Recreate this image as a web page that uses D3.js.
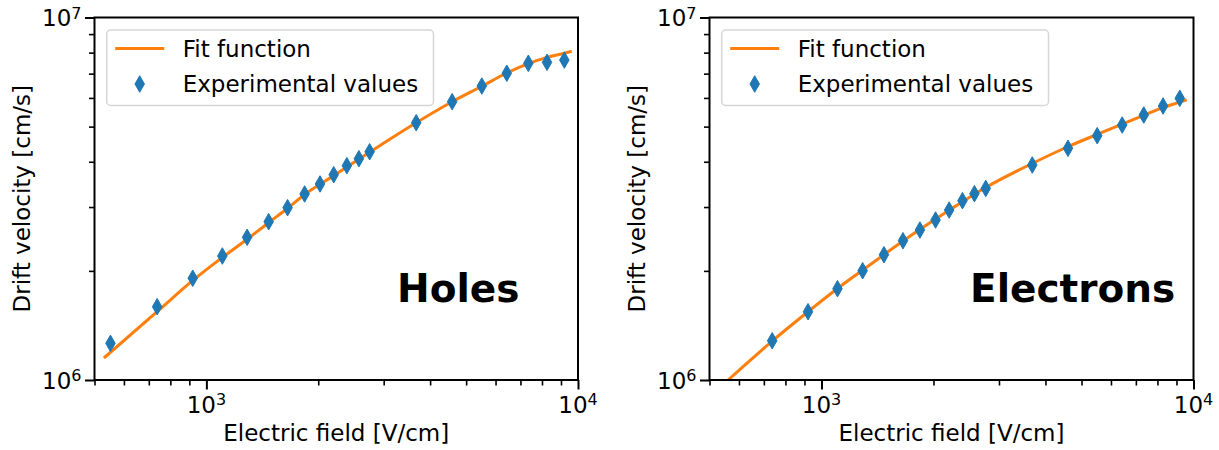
<!DOCTYPE html>
<html><head><meta charset="utf-8">
<script src="https://cdn.jsdelivr.net/npm/d3@7"></script>
<style>
body{margin:0;background:#fff}
text{font-family:"DejaVu Sans",sans-serif;fill:#000}
</style>
</head><body>
<svg id="chart" width="1219" height="450"></svg>
<script>
// ---------------- data ----------------
const holesField = [552, 737, 919, 1104, 1287, 1471, 1654, 1838, 2022, 2201, 2388, 2573, 2750, 3669, 4585, 5510, 6432, 7350, 8254, 9188];
const holesVelocity = [1.262e6, 1.593e6, 1.909e6, 2.198e6, 2.475e6, 2.734e6, 2.988e6, 3.26e6, 3.474e6, 3.684e6, 3.901e6, 4.078e6, 4.263e6, 5.126e6, 5.857e6, 6.471e6, 7.018e6, 7.475e6, 7.522e6, 7.63e6];
const holesFitField = [530, 737, 918, 1102, 1287, 1470, 1654, 1838, 2199, 2748, 3669, 4585, 5510, 6432, 7350, 8254, 9188, 9617];
const holesFitVelocity = [1.15e6, 1.543e6, 1.879e6, 2.175e6, 2.444e6, 2.716e6, 2.977e6, 3.249e6, 3.66e6, 4.25e6, 5.126e6, 5.857e6, 6.46e6, 7.03e6, 7.46e6, 7.76e6, 7.97e6, 8.07e6];

const electronsField = [737, 920, 1104, 1290, 1472, 1656, 1839, 2026, 2204, 2393, 2577, 2764, 3687, 4598, 5510, 6431, 7350, 8283, 9185];
const electronsVelocity = [1.283e6, 1.543e6, 1.786e6, 2.002e6, 2.216e6, 2.423e6, 2.593e6, 2.763e6, 2.944e6, 3.123e6, 3.266e6, 3.376e6, 3.918e6, 4.357e6, 4.72e6, 5.051e6, 5.383e6, 5.70e6, 5.985e6];
const electronsFitField = [535, 561, 737, 918, 1102, 1286, 1470, 1837, 2204, 2755, 3673, 4592, 5510, 6429, 7347, 8265, 9184, 9589];
const electronsFitVelocity = [0.957e6, 1.0e6, 1.28e6, 1.54e6, 1.785e6, 2.005e6, 2.215e6, 2.60e6, 2.94e6, 3.39e6, 3.95e6, 4.40e6, 4.76e6, 5.08e6, 5.37e6, 5.64e6, 5.84e6, 5.93e6];

const xDomain = [500, 1e4];
const yDomain = [1e6, 1e7];
const xMajorTicks = [1e3, 1e4];
const xMajorExp = ["3", "4"];
const xMinorTicks = [500, 600, 700, 800, 900, 2000, 3000, 4000, 5000, 6000, 7000, 8000, 9000];
const yMajorTicks = [1e6, 1e7];
const yMajorExp = ["6", "7"];
const yMinorTicks = [2e6, 3e6, 4e6, 5e6, 6e6, 7e6, 8e6, 9e6];
const panelNames = ["Holes", "Electrons"];
const legendLabels = ["Fit function", "Experimental values"];
const xLabel = "Electric field [V/cm]";
const yLabel = "Drift velocity [cm/s]";

// ---------------- layout ----------------
const BLUE = "#1f77b4", ORANGE = "#ff7f0e";
const panels = [
  {x0: 94.5, x1: 578, name: panelNames[0], labelX: 397, field: holesField, vel: holesVelocity, fitF: holesFitField, fitV: holesFitVelocity},
  {x0: 709.5, x1: 1193.5, name: panelNames[1], labelX: 970, field: electronsField, vel: electronsVelocity, fitF: electronsFitField, fitV: electronsFitVelocity}
];
const yTop = 17.5, yBot = 380;
const svg = d3.select("#chart");

function diamond(w, h) {
  return `M0,${-h/2}L${w/2},0L0,${h/2}L${-w/2},0Z`;
}

panels.forEach((p, i) => {
  const x = d3.scaleLog().domain(xDomain).range([p.x0, p.x1]);
  const y = d3.scaleLog().domain(yDomain).range([yBot, yTop]);
  const g = svg.append("g");

  const clipId = "clip" + i;
  svg.append("defs").append("clipPath").attr("id", clipId)
    .append("rect").attr("x", p.x0).attr("y", yTop).attr("width", p.x1 - p.x0).attr("height", yBot - yTop);

  // fit line
  const fitData = p.fitF.map((f, k) => [f, p.fitV[k]]);
  g.append("path").datum(fitData)
    .attr("clip-path", `url(#${clipId})`)
    .attr("fill", "none").attr("stroke", ORANGE).attr("stroke-width", 3)
    .attr("d", d3.line().x(d => x(d[0])).y(d => y(d[1])).curve(d3.curveMonotoneX));

  // markers
  const pts = p.field.map((f, k) => [f, p.vel[k]]);
  g.selectAll("path.pt").data(pts).enter().append("path").attr("class", "pt")
    .attr("d", diamond(9.5, 16.5))
    .attr("transform", d => `translate(${x(d[0])},${y(d[1])})`)
    .attr("fill", BLUE).attr("stroke", BLUE).attr("stroke-width", 1);

  // x axis ticks
  const xAxisMajor = d3.axisBottom(x).tickValues(xMajorTicks).tickSize(9.5).tickFormat("");
  const xAxisMinor = d3.axisBottom(x).tickValues(xMinorTicks).tickSize(5.5).tickFormat("");
  const gxM = g.append("g").attr("transform", `translate(0,${yBot})`).call(xAxisMajor);
  const gxm = g.append("g").attr("transform", `translate(0,${yBot})`).call(xAxisMinor);
  [gxM, gxm].forEach(a => a.select(".domain").remove());
  gxM.selectAll("line").attr("stroke", "#000").attr("stroke-width", 2);
  gxm.selectAll("line").attr("stroke", "#000").attr("stroke-width", 1.6);

  xMajorTicks.forEach((t, k) => {
    const tx = g.append("text").attr("x", x(t)).attr("y", 412.5).attr("text-anchor", "middle").attr("font-size", 23);
    tx.append("tspan").text("10");
    tx.append("tspan").attr("dy", -8).attr("font-size", 16).text(xMajorExp[k]);
  });

  // y axis ticks
  const yAxisMajor = d3.axisLeft(y).tickValues(yMajorTicks).tickSize(9.5).tickFormat("");
  const yAxisMinor = d3.axisLeft(y).tickValues(yMinorTicks).tickSize(5.5).tickFormat("");
  const gyM = g.append("g").attr("transform", `translate(${p.x0},0)`).call(yAxisMajor);
  const gym = g.append("g").attr("transform", `translate(${p.x0},0)`).call(yAxisMinor);
  [gyM, gym].forEach(a => a.select(".domain").remove());
  gyM.selectAll("line").attr("stroke", "#000").attr("stroke-width", 2);
  gym.selectAll("line").attr("stroke", "#000").attr("stroke-width", 1.6);

  yMajorTicks.forEach((t, k) => {
    const ty = g.append("text").attr("x", p.x0 - 13).attr("y", y(t) + 8.5).attr("text-anchor", "end").attr("font-size", 23);
    ty.append("tspan").text("10");
    ty.append("tspan").attr("dy", -7.5).attr("font-size", 16).text(yMajorExp[k]);
  });

  // spines
  g.append("rect").attr("x", p.x0).attr("y", yTop).attr("width", p.x1 - p.x0).attr("height", yBot - yTop)
    .attr("fill", "none").attr("stroke", "#000").attr("stroke-width", 2);

  // axis labels
  g.append("text").attr("x", (p.x0 + p.x1) / 2).attr("y", 441).attr("text-anchor", "middle").attr("font-size", 23).text(xLabel);
  g.append("text").attr("transform", `translate(${p.x0 - 65},${(yTop + yBot) / 2}) rotate(-90)`)
    .attr("text-anchor", "middle").attr("font-size", 23).text(yLabel);

  // panel name
  g.append("text").attr("x", p.labelX).attr("y", 302).attr("font-size", 39).attr("font-weight", "bold").text(p.name);

  // legend
  const lx = p.x0 + 12.2, ly = 30;
  const lg = g.append("g");
  lg.append("rect").attr("x", lx).attr("y", ly).attr("width", 326.8).attr("height", 75.5).attr("rx", 4)
    .attr("fill", "#fff").attr("fill-opacity", 0.8).attr("stroke", "#d6d6d6").attr("stroke-width", 1.5);
  lg.append("line").attr("x1", lx + 8.5).attr("x2", lx + 57.5).attr("y1", ly + 18.5).attr("y2", ly + 18.5)
    .attr("stroke", ORANGE).attr("stroke-width", 3);
  lg.append("path").attr("d", diamond(9.5, 16.5)).attr("transform", `translate(${lx + 33},${ly + 54})`)
    .attr("fill", BLUE).attr("stroke", BLUE).attr("stroke-width", 1);
  lg.append("text").attr("x", lx + 76).attr("y", ly + 26.7).attr("font-size", 23).text(legendLabels[0]);
  lg.append("text").attr("x", lx + 76).attr("y", ly + 61.7).attr("font-size", 23).text(legendLabels[1]);
});
</script>
</body></html>
